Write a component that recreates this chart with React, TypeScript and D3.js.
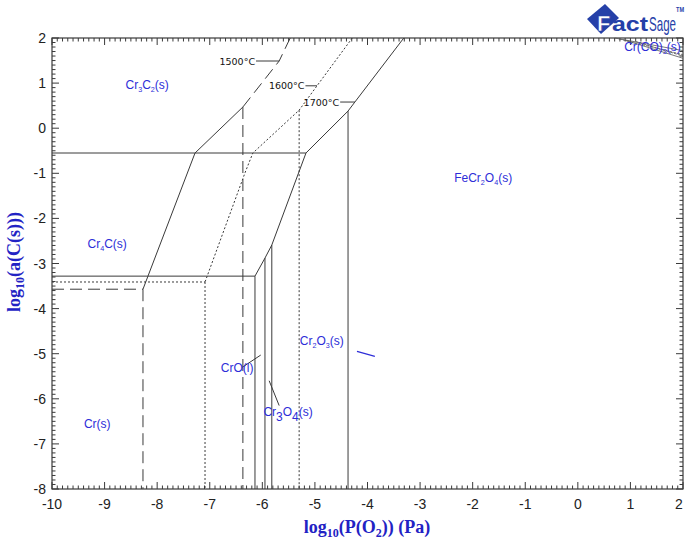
import * as d3 from "d3"

// Plot frame (pixels)
const W = 685
const H = 543
const margin = { left: 52, right: 2, top: 38, bottom: 54 }

// axis ticks
const xTicks = d3.range(-10, 3)
const yTicks = d3.range(-8, 3)
const xMinor = d3.range(-10, 2.001, 0.1)
const yMinor = d3.range(-8, 2.001, 0.1)

// 1700°C boundaries (solid)
const t1700Curve: [number, number][] = [[-3.31, 2], [-4.24, 0.58], [-4.37, 0.38], [-5.17, -0.55], [-5.82, -2.59], [-5.95, -2.88], [-6.14, -3.28]]
const t1700Carbide: [number, number][] = [[-10, -0.55], [-5.17, -0.55]]
const t1700Metal: [number, number][] = [[-10, -3.28], [-6.14, -3.28]]
const t1700Verticals: [number, number][] = [[-4.37, 0.38], [-6.14, -3.28], [-5.95, -2.88], [-5.82, -2.59]]

// 1600°C boundaries (dotted)
const t1600Curve: [number, number][] = [[-4.29, 2], [-4.96, 0.94], [-5.3, 0.4], [-6.18, -0.55], [-6.33, -0.99], [-7.09, -3.41]]
const t1600Metal: [number, number][] = [[-10, -3.41], [-7.09, -3.41]]
const t1600Verticals: [number, number][] = [[-7.09, -3.41], [-5.3, 0.4]]

// 1500°C boundaries (long dash, lower part drawn solid)
const t1500Upper: [number, number][] = [[-5.47, 2], [-5.68, 1.49], [-6.37, 0.47]]
const t1500Lower: [number, number][] = [[-6.37, 0.47], [-7.28, -0.55], [-8.27, -3.57]]
const t1500Metal: [number, number][] = [[-10, -3.57], [-8.27, -3.57]]
const t1500Verticals: [number, number][] = [[-8.27, -3.57], [-6.37, 0.47]]

// Cr(CO)3 corner lines
const carbonylLines: [number, number][][] = [
  [[0.7, 2], [2, 1.72]],
  [[0.78, 1.98], [2, 1.63]],
  [[0.9, 1.95], [2, 1.55]],
  [[1.1, 1.92], [2, 1.6]],
]

// temperature labels: text, anchor of leader line on curve, leader start
const tempLabels = [
  { text: "1500°C", at: [-5.68, 1.49], from: -6.12 },
  { text: "1600°C", at: [-4.96, 0.94], from: -5.18 },
  { text: "1700°C", at: [-4.24, 0.58], from: -4.52 },
]

type Part = { t: string; sub?: boolean }
const phaseLabels: { x: number; y: number; parts: Part[] }[] = [
  { x: -8.19, y: 0.96, parts: [{ t: "Cr" }, { t: "3", sub: true }, { t: "C" }, { t: "2", sub: true }, { t: "(s)" }] },
  { x: -8.95, y: -2.57, parts: [{ t: "Cr" }, { t: "4", sub: true }, { t: "C(s)" }] },
  { x: -9.14, y: -6.56, parts: [{ t: "Cr(s)" }] },
  { x: -6.48, y: -5.32, parts: [{ t: "CrO(l)" }] },
  { x: -4.87, y: -4.72, parts: [{ t: "Cr" }, { t: "2", sub: true }, { t: "O" }, { t: "3", sub: true }, { t: "(s)" }] },
  { x: -1.8, y: -1.1, parts: [{ t: "FeCr" }, { t: "2", sub: true }, { t: "O" }, { t: "4", sub: true }, { t: "(s)" }] },
  { x: 1.42, y: 1.8, parts: [{ t: "Cr(CO)" }, { t: "3", sub: true }, { t: "(s)" }] },
]

const x = d3.scaleLinear().domain([-10, 2]).range([margin.left, W - margin.right])
const y = d3.scaleLinear().domain([-8, 2]).range([H - margin.bottom, margin.top])
const line = d3.line<[number, number]>().x((d) => x(d[0])).y((d) => y(d[1]))

const blue = "#2d2dd8"
const ink = "#3a3a3a"

function Label({ parts, cx, cy, size = 12 }: { parts: Part[]; cx: number; cy: number; size?: number }) {
  return (
    <text x={cx} y={cy} textAnchor="middle" fontFamily="Arial, 'Liberation Sans', sans-serif" fontSize={size} fill={blue}>
      {parts.map((p, i) => {
        const prevSub = i > 0 && parts[i - 1].sub
        const dy = p.sub ? 3 : prevSub ? -3 : 0
        return (
          <tspan key={i} dy={dy} fontSize={p.sub ? size * 0.6 : size}>
            {p.t}
          </tspan>
        )
      })}
    </text>
  )
}

export default function App() {
  const x0 = x(-10), x1 = x(2), y0 = y(-8), y1 = y(2)
  const solid = { fill: "none", stroke: ink, strokeWidth: 1 }
  return (
    <svg width={W} height={H} style={{ position: "fixed", left: 0, top: 0, background: "#fff" }}>
      {/* ticks */}
      <g stroke={ink} strokeWidth={1}>
        {xMinor.map((v, i) => {
          const major = Math.abs(v - Math.round(v)) < 1e-6
          const len = major ? 7 : 3.5
          return (
            <g key={"xm" + i}>
              <line x1={x(v)} x2={x(v)} y1={y0} y2={y0 - len} />
              <line x1={x(v)} x2={x(v)} y1={y1} y2={y1 + len} />
            </g>
          )
        })}
        {yMinor.map((v, i) => {
          const major = Math.abs(v - Math.round(v)) < 1e-6
          const len = major ? 7 : 3.5
          return (
            <g key={"ym" + i}>
              <line x1={x0} x2={x0 + len} y1={y(v)} y2={y(v)} />
              <line x1={x1} x2={x1 - len} y1={y(v)} y2={y(v)} />
            </g>
          )
        })}
      </g>
      <rect x={x0} y={y1} width={x1 - x0} height={y0 - y1} fill="none" stroke={ink} strokeWidth={1.2} />

      {/* tick labels */}
      <g fontFamily="Arial, 'Liberation Sans', sans-serif" fontSize={14} fill="#222">
        {xTicks.map((v) => (
          <text key={"xt" + v} x={Math.min(x(v), W - 6)} y={y0 + 20} textAnchor="middle">{v}</text>
        ))}
        {yTicks.map((v) => (
          <text key={"yt" + v} x={x0 - 6} y={y(v) + 5} textAnchor="end">{v}</text>
        ))}
      </g>

      {/* 1700 °C */}
      <path d={line(t1700Curve) ?? ""} {...solid} />
      <path d={line(t1700Carbide) ?? ""} {...solid} />
      <path d={line(t1700Metal) ?? ""} {...solid} />
      {t1700Verticals.map((p, i) => (
        <path key={"v7" + i} d={line([p, [p[0], -8]]) ?? ""} {...solid} />
      ))}

      {/* 1600 °C */}
      <g strokeDasharray="2,2">
        <path d={line(t1600Curve) ?? ""} {...solid} />
        <path d={line(t1600Metal) ?? ""} {...solid} />
        {t1600Verticals.map((p, i) => (
          <path key={"v6" + i} d={line([p, [p[0], -8]]) ?? ""} {...solid} />
        ))}
      </g>

      {/* 1500 °C */}
      <path d={line(t1500Lower) ?? ""} {...solid} />
      <g strokeDasharray="12,6">
        <path d={line(t1500Upper) ?? ""} {...solid} />
        <path d={line(t1500Metal) ?? ""} {...solid} />
        {t1500Verticals.map((p, i) => (
          <path key={"v5" + i} d={line([p, [p[0], -8]]) ?? ""} {...solid} />
        ))}
      </g>

      {/* carbonyl corner */}
      {carbonylLines.map((l, i) => (
        <path key={"c" + i} d={line(l) ?? ""} fill="none" stroke="#555" strokeWidth={0.8} strokeDasharray={i % 2 ? "3,1" : undefined} />
      ))}

      {/* temperature labels */}
      {tempLabels.map((t) => (
        <g key={t.text}>
          <line x1={x(t.from)} x2={x(t.at[0])} y1={y(t.at[1])} y2={y(t.at[1])} stroke={ink} strokeWidth={1} />
          <text x={x(t.from) - 1} y={y(t.at[1]) + 3.5} textAnchor="end" fontFamily="'DejaVu Sans', Verdana, sans-serif" fontSize={9.5} fill="#111">
            {t.text}
          </text>
        </g>
      ))}

      {/* leader lines to small phase fields */}
      <line x1={x(-6.38)} y1={y(-5.3)} x2={x(-6.03)} y2={y(-5.03)} stroke={ink} strokeWidth={1} />
      <line x1={x(-5.87)} y1={y(-5.6)} x2={x(-5.68)} y2={y(-6.15)} stroke={ink} strokeWidth={1} />
      <line x1={x(-4.2)} y1={y(-4.95)} x2={x(-3.86)} y2={y(-5.06)} stroke={blue} strokeWidth={1.2} />

      {/* phase labels */}
      {phaseLabels.map((l, i) => (
        <Label key={i} parts={l.parts} cx={x(l.x)} cy={y(l.y) + 4} />
      ))}
      {/* Cr3O4 label with large offset subscripts */}
      <text x={x(-5.98)} y={y(-6.3) + 4} fontFamily="Arial, 'Liberation Sans', sans-serif" fontSize={12} fill={blue}>
        <tspan>Cr</tspan>
        <tspan dy={5}>3</tspan>
        <tspan dy={-5}>O</tspan>
        <tspan dy={5}>4</tspan>
        <tspan dy={-5}>(s)</tspan>
      </text>

      {/* axis titles */}
      <text x={367} y={533} textAnchor="middle" fontFamily="'Liberation Serif', 'Times New Roman', serif" fontWeight="bold" fontSize={18} fill="#2222c4">
        log<tspan fontSize={12} dy={4}>10</tspan><tspan dy={-4}>(P(O</tspan><tspan fontSize={12} dy={4}>2</tspan><tspan dy={-4}>)) (Pa)</tspan>
      </text>
      <text transform="translate(20,262) rotate(-90)" textAnchor="middle" fontFamily="'Liberation Serif', 'Times New Roman', serif" fontWeight="bold" fontSize={18} fill="#2222c4">
        log<tspan fontSize={12} dy={4}>10</tspan><tspan dy={-4}>(a(C(s)))</tspan>
      </text>

      {/* FactSage logo */}
      <g>
        <polygon points="587,19 605,4 619,18 601,34" fill="#2540a8" />
        <text x={597} y={31} fontFamily="Arial, sans-serif" fontWeight="900" fontSize={22} fill="#fff" stroke="#2540a8" strokeWidth={0.6}>F</text>
        <text x={612} y={31} fontFamily="Arial, sans-serif" fontWeight="900" fontSize={21} fill="#2540a8" textLength={36} lengthAdjust="spacingAndGlyphs">act</text>
        <text x={649} y={31} fontFamily="'Liberation Sans Narrow', Arial, sans-serif" fontSize={21} fill="#2540a8" textLength={27} lengthAdjust="spacingAndGlyphs">Sage</text>
        <text x={676} y={12} fontFamily="Arial, sans-serif" fontWeight="bold" fontSize={6.5} fill="#2540a8" textLength={8} lengthAdjust="spacingAndGlyphs">TM</text>
      </g>
    </svg>
  )
}
